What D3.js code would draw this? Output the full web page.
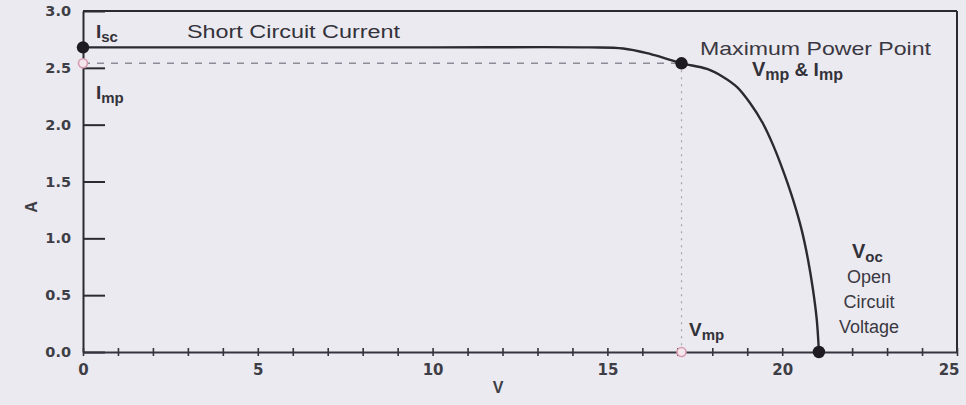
<!DOCTYPE html>
<html>
<head>
<meta charset="utf-8">
<script src="https://cdn.jsdelivr.net/npm/d3@7"></script>
<style>
  html, body { margin: 0; padding: 0; background: #ebeaf0; }
  svg { display: block; font-family: "Liberation Sans", Arial, sans-serif; }
</style>
</head>
<body>
<svg id="chart" width="966" height="405"></svg>
<script>
// I–V curve of a PV module (volts, amps)
const voltage = [0, 5, 10, 14.5, 15.45, 16.13, 16.59, 17.12, 17.85, 18.31, 18.71, 19.08, 19.45, 19.74, 20.02, 20.31, 20.56, 20.74, 20.88, 20.99, 21.05];
const current = [2.68, 2.68, 2.68, 2.68, 2.67, 2.63, 2.59, 2.54, 2.49, 2.42, 2.33, 2.19, 2.01, 1.82, 1.60, 1.34, 1.07, 0.81, 0.55, 0.28, 0];

// Characteristic points
const Isc = 2.68, Imp = 2.54, Vmp = 17.12, Voc = 21.05;

// Axis ticks
const xTicks = d3.range(0, 26, 1);
const xLabels = [0, 5, 10, 15, 20, 25];
const yTicks = [0, 0.5, 1.0, 1.5, 2.0, 2.5, 3.0];

const svg = d3.select("#chart");
const x = d3.scaleLinear().domain([0, 25]).range([83, 957]);
const y = d3.scaleLinear().domain([0, 3]).range([352, 11]);

const ink = "#2a2a30";
const labelInk = "#3e3e46";
const tickFont = "'DejaVu Sans', Verdana, sans-serif";

// Frame: top and right borders
svg.append("line").attr("x1", x(0)).attr("x2", x(25)).attr("y1", y(3)).attr("y2", y(3))
  .attr("stroke", ink).attr("stroke-width", 2);
svg.append("line").attr("x1", x(25)).attr("x2", x(25)).attr("y1", y(3)).attr("y2", y(0))
  .attr("stroke", ink).attr("stroke-width", 2);

// Y axis: inward ticks, labels on the left
const yAxis = svg.append("g").attr("transform", `translate(${x(0)},0)`)
  .call(d3.axisLeft(y).tickValues(yTicks).tickFormat(d3.format(".1f"))
    .tickSizeInner(-22).tickSizeOuter(0).tickPadding(12));
yAxis.select(".domain").attr("stroke", ink).attr("stroke-width", 2);
yAxis.selectAll(".tick line").attr("stroke", ink).attr("stroke-width", 2);
yAxis.selectAll(".tick text").attr("fill", labelInk).attr("font-size", 14.5)
  .attr("font-weight", "bold").attr("font-family", tickFont);

// X axis: small crossing ticks every volt, labels every 5 V
const xAxis = svg.append("g").attr("transform", `translate(0,${y(0)})`)
  .call(d3.axisBottom(x).tickValues(xTicks)
    .tickFormat(d => xLabels.includes(d) ? d : "")
    .tickSizeInner(4).tickSizeOuter(0).tickPadding(8));
xAxis.select(".domain").attr("stroke", "#34343e").attr("stroke-width", 2);
xAxis.selectAll(".tick line").attr("y1", -4).attr("stroke", "#34343e").attr("stroke-width", 1.6);
xAxis.selectAll(".tick text").attr("fill", labelInk).attr("font-size", 15)
  .attr("font-weight", "bold").attr("font-family", tickFont);
// keep the last label inside the frame's right edge
xAxis.selectAll(".tick text").filter(d => d === 25).attr("text-anchor", "end").attr("x", 2);

// Axis titles
svg.append("text").attr("x", 498).attr("y", 393).attr("text-anchor", "middle")
  .attr("fill", labelInk).attr("font-size", 16).attr("font-weight", "bold").text("V");
svg.append("text").attr("transform", "translate(37,207) rotate(-90)").attr("text-anchor", "middle")
  .attr("fill", labelInk).attr("font-size", 16).attr("font-weight", "bold").text("A");

// Guide lines to the maximum power point
svg.append("line").attr("x1", x(0)).attr("x2", x(Vmp)).attr("y1", y(Imp)).attr("y2", y(Imp))
  .attr("stroke", "#8e8c98").attr("stroke-width", 1.4).attr("stroke-dasharray", "7,7");
svg.append("line").attr("x1", x(Vmp)).attr("x2", x(Vmp)).attr("y1", y(Imp)).attr("y2", y(0))
  .attr("stroke", "#a4a2ae").attr("stroke-width", 1.2).attr("stroke-dasharray", "2,5");

// I–V curve
const pts = voltage.map((v, i) => [v, current[i]]);
svg.append("path").datum(pts)
  .attr("d", d3.line().x(d => x(d[0])).y(d => y(d[1])).curve(d3.curveCatmullRom.alpha(0.5)))
  .attr("fill", "none").attr("stroke", ink).attr("stroke-width", 2.4);

// Projections of the MPP onto the axes (hollow markers)
[[0, Imp], [Vmp, 0]].forEach(([v, a]) => {
  svg.append("circle").attr("cx", x(v)).attr("cy", y(a)).attr("r", 4.5)
    .attr("fill", "#f3e6ec").attr("stroke", "#d79aaf").attr("stroke-width", 1.6);
});

// Key points
[[0, Isc], [Vmp, Imp], [Voc, 0]].forEach(([v, a]) => {
  svg.append("circle").attr("cx", x(v)).attr("cy", y(a)).attr("r", 6.2).attr("fill", "#1e1c22");
});

// Labels with subscripts
function subLabel(px, py, main, sub, size, subSize, anchor) {
  const t = svg.append("text").attr("x", px).attr("y", py)
    .attr("fill", "#33323a").attr("font-weight", "bold").attr("text-anchor", anchor || "start");
  t.append("tspan").attr("font-size", size).text(main);
  t.append("tspan").attr("font-size", subSize).attr("dy", 4).text(sub);
  return t;
}

subLabel(96, 38, "I", "sc", 19, 15);
subLabel(96, 99, "I", "mp", 19, 15);
subLabel(689, 336, "V", "mp", 19, 15);

svg.append("text").attr("x", 187).attr("y", 38).attr("fill", "#33323a").attr("font-size", 18)
  .attr("textLength", 213).attr("lengthAdjust", "spacingAndGlyphs").text("Short Circuit Current");

svg.append("text").attr("x", 700).attr("y", 55).attr("fill", "#3a3842").attr("font-size", 19)
  .attr("textLength", 231).attr("lengthAdjust", "spacingAndGlyphs").text("Maximum Power Point");

// "Vmp & Imp"
const mpp = svg.append("text").attr("x", 752).attr("y", 76).attr("fill", "#33323a").attr("font-weight", "bold");
mpp.append("tspan").attr("font-size", 20).text("V");
mpp.append("tspan").attr("font-size", 16).attr("dy", 4).text("mp");
mpp.append("tspan").attr("font-size", 19).attr("dy", -4).text(" & I");
mpp.append("tspan").attr("font-size", 16).attr("dy", 4).text("mp");

// Open-circuit voltage label block
subLabel(852, 258, "V", "oc", 20, 15);
["Open", "Circuit", "Voltage"].forEach((s, i) => {
  svg.append("text").attr("x", 869).attr("y", 283 + i * 25).attr("text-anchor", "middle")
    .attr("fill", "#3a3842").attr("font-size", 18).text(s);
});
</script>
</body>
</html>
